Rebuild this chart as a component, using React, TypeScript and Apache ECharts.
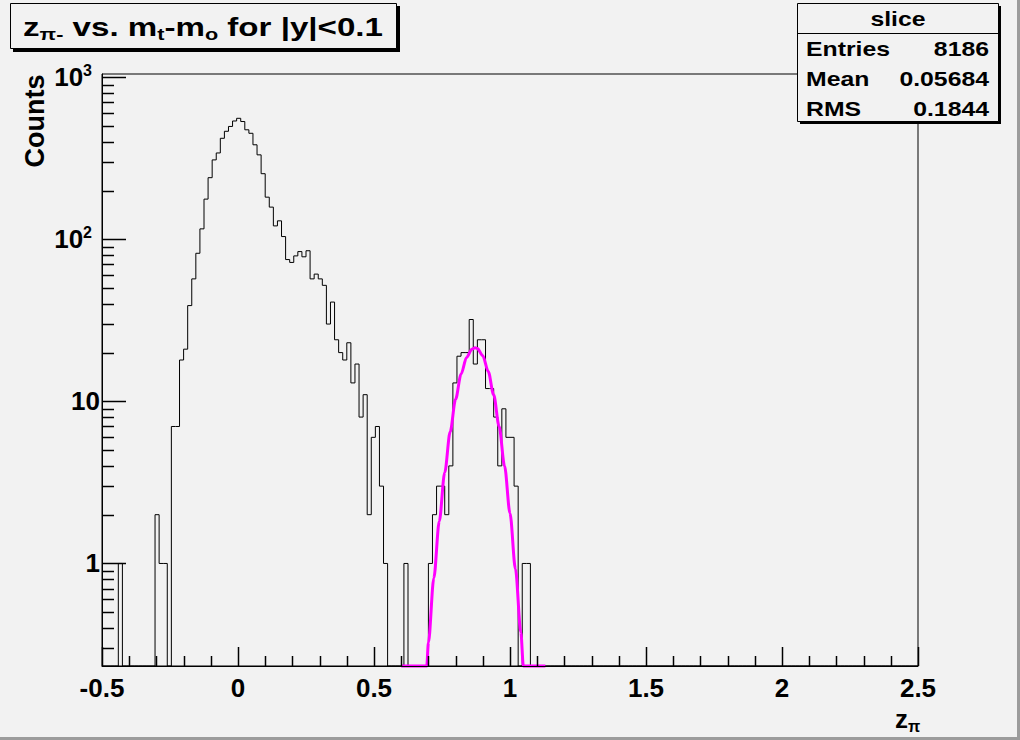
import React, { useEffect, useRef } from "react";
import * as echarts from "echarts";

// ---------- data ----------
const X_MIN = -0.5;
const X_MAX = 2.5;
const BIN_WIDTH = 0.015;
const N_BINS = 200;
const Y_MIN = 0.233;
const Y_MAX = 1047;

// counts for bins 0..104 (remaining bins are empty)
const binCounts = [
  0, 0, 0, 0, 1, 0, 0, 0, 0, 0,
  0, 0, 0, 2, 1, 1, 0, 7, 7, 18,
  21, 39, 57, 82, 116, 177, 240, 309, 341, 420,
  464, 497, 537, 558, 533, 474, 451, 383, 332, 254,
  182, 158, 121, 130, 104, 75, 72, 79, 84, 78,
  85, 57, 61, 57, 52, 30, 41, 24, 20, 18,
  23, 13, 17, 8, 11, 2, 6, 7, 3, 1,
  0, 0, 0, 0, 1, 0, 0, 0, 0, 0,
  1, 2, 3, 3, 2, 4, 13, 19, 20, 20,
  32, 17, 24, 24, 12, 12, 8, 4, 9, 6,
  6, 3, 0, 1, 1,
];

// magenta fit curve
const fitX = [0.6, 0.694, 0.7, 0.72, 0.74, 0.76, 0.78, 0.8, 0.82, 0.84, 0.86, 0.8715, 0.88, 0.9, 0.92, 0.94, 0.96, 0.98, 1.0, 1.02, 1.04, 1.049, 1.13];
const fitY = [0.233, 0.233, 0.324, 0.814, 1.82, 3.64, 6.49, 10.3, 14.7, 18.6, 21.0, 21.4, 21.2, 19.1, 15.3, 10.97, 7.01, 4.0, 2.04, 0.925, 0.375, 0.233, 0.233];

const yMajorTicks = [1, 10, 100, 1000];
const yMinorTicks = [0.3, 0.4, 0.5, 0.6, 0.7, 0.8, 0.9, 2, 3, 4, 5, 6, 7, 8, 9, 20, 30, 40, 50, 60, 70, 80, 90, 200, 300, 400, 500, 600, 700, 800, 900];
const xMajorTicks = [-0.5, 0, 0.5, 1, 1.5, 2, 2.5];
const xMinorTicks = [-0.4, -0.3, -0.2, -0.1, 0.1, 0.2, 0.3, 0.4, 0.6, 0.7, 0.8, 0.9, 1.1, 1.2, 1.3, 1.4, 1.6, 1.7, 1.8, 1.9, 2.1, 2.2, 2.3, 2.4];

// title pieces: [text, isSubscript]
const titlePieces: [string, boolean][] = [
  ["z", false],
  ["π-", true],
  [" vs. m", false],
  ["t", true],
  ["-m", false],
  ["o", true],
  [" for |y|<0.1", false],
];

const statsTitle = "slice";
const statsLabels = ["Entries", "Mean", "RMS"];
const statsValues = ["8186", "0.05684", "0.1844"];

// ---------- layout ----------
const W = 1020;
const H = 740;
const BG = "#f2f2f2";
const FONT = "'Liberation Sans', Arial, Helvetica, sans-serif";
const GRID_L = 102;
const GRID_R = 918;
const GRID_T = 74;
const GRID_B = 666;

const lg = (v: number) => Math.log10(v);

function measure(text: string, font: string): number {
  const c = document.createElement("canvas");
  const ctx = c.getContext("2d");
  if (!ctx) return text.length * 14;
  ctx.font = font;
  return ctx.measureText(text).width;
}

export default function App() {
  const ref = useRef<HTMLDivElement>(null);

  useEffect(() => {
    if (!ref.current) return;
    const chart = echarts.init(ref.current, undefined, { renderer: "svg", width: W, height: H });

    const histPoints: number[][] = [];
    for (let i = 0; i < N_BINS; i++) {
      const c = i < binCounts.length ? binCounts[i] : 0;
      const v = lg(Math.max(c, Y_MIN));
      histPoints.push([X_MIN + i * BIN_WIDTH, v], [X_MIN + (i + 1) * BIN_WIDTH, v]);
    }
    const fitPoints = fitX.map((x, i) => [x, lg(Math.max(fitY[i], Y_MIN))]);

    // tick marks: [x, y, dir(0 = y-axis tick, 1 = x-axis tick), length px]
    const tickData: number[][] = [
      ...yMajorTicks.map((v) => [X_MIN, lg(v), 0, 24]),
      ...yMinorTicks.map((v) => [X_MIN, lg(v), 0, 12]),
      ...xMajorTicks.map((v) => [v, lg(Y_MIN), 1, 19]),
      ...xMinorTicks.map((v) => [v, lg(Y_MIN), 1, 10]),
    ];

    const boldText = (text: string, x: number, y: number, size: number, opts: any = {}) => ({
      type: "text",
      x,
      y,
      z: 100,
      scaleX: opts.scaleX ?? 1,
      rotation: opts.rotation ?? 0,
      style: {
        text,
        x: 0,
        y: 0,
        fill: "#000",
        font: `bold ${size}px ${FONT}`,
        textAlign: opts.align ?? "left",
        textVerticalAlign: "middle",
        verticalAlign: "middle",
      },
    });

    // title layout: fit the pieces between x=23 and x=383
    const MAIN = 26;
    const SUB = 17;
    const widths = titlePieces.map(([t, sub]) => measure(t, `bold ${sub ? SUB : MAIN}px ${FONT}`));
    const total = widths.reduce((a, b) => a + b, 0);
    const TS = (383 - 23) / total;
    let cx = 23;
    const titleEls = titlePieces.map(([t, sub], i) => {
      const el = boldText(t, cx, sub ? 34 : 27, sub ? SUB : MAIN, { scaleX: TS });
      cx += widths[i] * TS;
      return el;
    });

    const SS = 1.24; // stats stretch

    const graphic: any[] = [
      // canvas bevel
      { type: "rect", z: 100, shape: { x: W - 3, y: 0, width: 3, height: H }, style: { fill: "#9c9c9c" } },
      { type: "rect", z: 100, shape: { x: 0, y: H - 3, width: W, height: 3 }, style: { fill: "#9c9c9c" } },
      // title box
      { type: "rect", z: 99, shape: { x: 13, y: 6, width: 387, height: 46 }, style: { fill: "#000" } },
      { type: "rect", z: 99, shape: { x: 10.5, y: 3.5, width: 386, height: 45 }, style: { fill: BG, stroke: "#000", lineWidth: 1 } },
      ...titleEls,
      // stats box
      { type: "rect", z: 99, shape: { x: 800, y: 6, width: 201, height: 118 }, style: { fill: "#000" } },
      { type: "rect", z: 99, shape: { x: 797.5, y: 3.5, width: 201, height: 118 }, style: { fill: BG, stroke: "#000", lineWidth: 1 } },
      { type: "line", z: 100, shape: { x1: 797.5, y1: 33.5, x2: 998.5, y2: 33.5 }, style: { stroke: "#000", lineWidth: 1 } },
      boldText(statsTitle, 898, 19, 20, { scaleX: SS, align: "center" }),
      ...statsLabels.map((t, i) => boldText(t, 806, 49 + i * 30, 20, { scaleX: SS })),
      ...statsValues.map((t, i) => boldText(t, 989, 49 + i * 30, 20, { scaleX: SS, align: "right" })),
      // axis titles
      boldText("Counts", 35, 121, 27, { rotation: Math.PI / 2, align: "center" }),
      boldText("z", 895, 719, 26),
      boldText("π", 908, 726, 16),
    ];

    const option: any = {
      animation: false,
      backgroundColor: BG,
      grid: {
        left: GRID_L,
        top: GRID_T,
        right: W - GRID_R,
        bottom: H - GRID_B,
        show: true,
        borderColor: "#000",
        borderWidth: 1,
        backgroundColor: BG,
      },
      xAxis: {
        type: "value",
        min: X_MIN,
        max: X_MAX,
        interval: 0.5,
        z: 20,
        axisLine: { show: true, onZero: false, lineStyle: { color: "#000", width: 1 } },
        axisTick: { show: false },
        minorTick: { show: false },
        splitLine: { show: false },
        axisLabel: {
          color: "#000",
          fontFamily: FONT,
          fontWeight: "bold",
          fontSize: 26,
          margin: 9,
          formatter: (v: number) => String(Math.round(v * 10) / 10),
        },
      },
      yAxis: {
        type: "value",
        min: lg(Y_MIN),
        max: lg(Y_MAX),
        z: 20,
        axisLine: { show: true, onZero: false, lineStyle: { color: "#000", width: 1 } },
        axisTick: { show: false },
        splitLine: { show: false },
        axisLabel: {
          customValues: yMajorTicks.map(lg),
          margin: 2,
          formatter: (v: number) => {
            const e = Math.round(v);
            if (e === 0) return "{n|1}";
            if (e === 1) return "{n|10}";
            return `{n|10}{s|${e}}`;
          },
          rich: {
            n: { fontFamily: FONT, fontWeight: "bold", fontSize: 26, color: "#000", lineHeight: 30 },
            s: { fontFamily: FONT, fontWeight: "bold", fontSize: 16, color: "#000", lineHeight: 18, verticalAlign: "top", padding: [0, 8, 0, 0] },
          },
        },
      },
      series: [
        {
          type: "line",
          data: histPoints,
          symbol: "none",
          lineStyle: { color: "#000", width: 1 },
          silent: true,
          z: 3,
        },
        {
          type: "line",
          data: fitPoints,
          symbol: "none",
          smooth: 0.3,
          smoothMonotone: "x",
          clip: false,
          lineStyle: { color: "#ff00ff", width: 3 },
          silent: true,
          z: 4,
        },
        {
          type: "custom",
          coordinateSystem: "cartesian2d",
          data: tickData,
          encode: { x: 0, y: 1 },
          silent: true,
          clip: false,
          z: 30,
          renderItem: (_params: any, api: any) => {
            const p = api.coord([api.value(0), api.value(1)]);
            const isX = api.value(2) === 1;
            const len = api.value(3);
            if (isX) {
              const x = Math.round(p[0]) + 0.5;
              return {
                type: "line",
                shape: { x1: x, y1: p[1], x2: x, y2: p[1] - len },
                style: { stroke: "#000", lineWidth: 1.5 },
              };
            }
            const y = Math.round(p[1]) + 0.5;
            return {
              type: "line",
              shape: { x1: p[0], y1: y, x2: p[0] + len, y2: y },
              style: { stroke: "#000", lineWidth: 1.5 },
            };
          },
        },
      ],
      graphic,
    };

    chart.setOption(option);
    return () => chart.dispose();
  }, []);

  return (
    <div style={{ position: "fixed", left: 0, top: 0, width: W, height: H, background: BG }}>
      <div ref={ref} style={{ width: W, height: H }} />
    </div>
  );
}
